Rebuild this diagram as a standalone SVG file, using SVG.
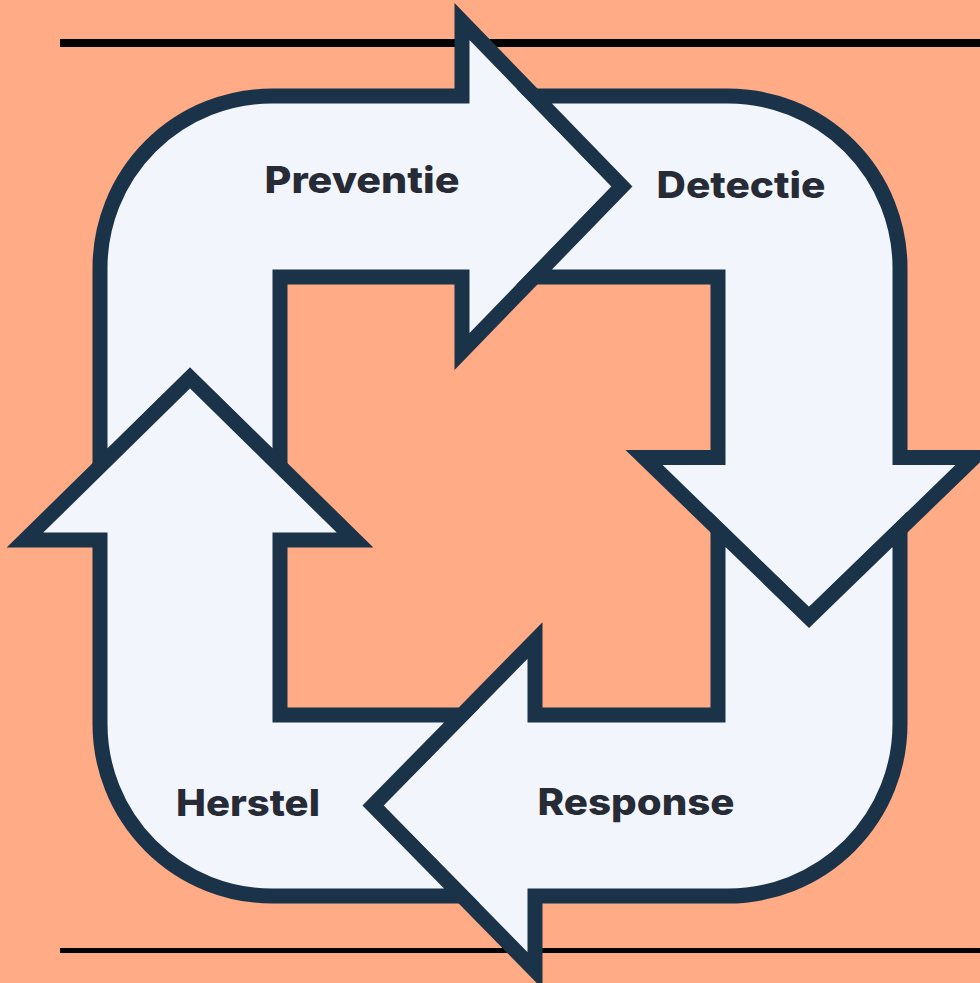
<svg xmlns="http://www.w3.org/2000/svg" width="980" height="983" viewBox="0 0 980 983">
  <style>
    .seg { fill: #F2F6FC; stroke: #1B3349; stroke-width: 15; stroke-linejoin: miter; stroke-miterlimit: 6; }
    .lbl { font-family: Inter, "Open Sans", "Liberation Sans", sans-serif; font-weight: 800; font-size: 37px; fill: #262B36; text-anchor: middle; }
    .rule { stroke: #000000; }
  </style>
  <rect x="0" y="0" width="980" height="983" fill="#FFAB86"/>
  <g id="rules">
    <line class="rule" x1="60" y1="43" x2="980" y2="43" stroke-width="8"/>
    <line class="rule" x1="60" y1="950.5" x2="980" y2="950.5" stroke-width="5"/>
  </g>
  <g id="preventie">
    <path class="seg" d="M 100,466.4 L 100,268 A 172 172 0 0 1 272,96 L 462,96 L 462,21.5 L 622,186.5 L 462,351.5 L 462,277 L 280,277 L 280,466.4 L 190,378 Z"/>
    <text class="lbl" x="362" y="193" textLength="195" lengthAdjust="spacingAndGlyphs">Preventie</text>
  </g>
  <g id="detectie">
    <path class="seg" d="M 534.2,96 L 728,96 A 172 172 0 0 1 900,268 L 900,457.5 L 974,457.5 L 809,617.5 L 644,457.5 L 718,457.5 L 718,277 L 534.2,277 L 622,186.5 Z"/>
    <text class="lbl" x="741" y="198" textLength="169" lengthAdjust="spacingAndGlyphs">Detectie</text>
  </g>
  <g id="response">
    <path class="seg" d="M 900,529.3 L 900,724 A 172 172 0 0 1 728,896 L 535,896 L 535,970.5 L 373,805.5 L 535,640.5 L 535,715 L 718,715 L 718,529.3 L 809,617.5 Z"/>
    <text class="lbl" x="636" y="815" textLength="197" lengthAdjust="spacingAndGlyphs">Response</text>
  </g>
  <g id="herstel">
    <path class="seg" d="M 461.9,896 L 272,896 A 172 172 0 0 1 100,724 L 100,540 L 25,540 L 190,378 L 355,540 L 280,540 L 280,715 L 461.9,715 L 373,805.5 Z"/>
    <text class="lbl" x="248" y="816" textLength="144" lengthAdjust="spacingAndGlyphs">Herstel</text>
  </g>
</svg>
